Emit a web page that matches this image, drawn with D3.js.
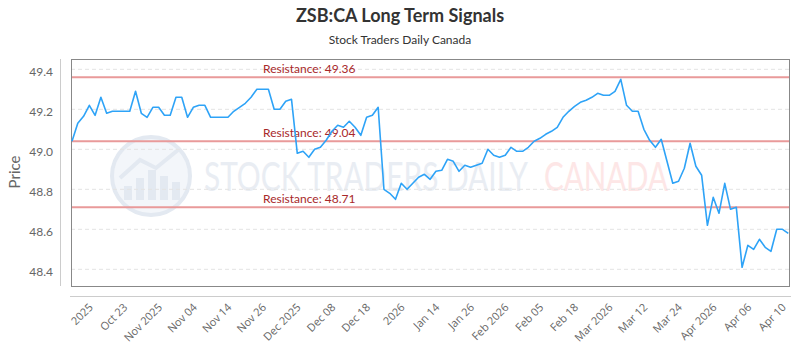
<!DOCTYPE html>
<html>
<head>
<meta charset="utf-8">
<script src="https://cdn.jsdelivr.net/npm/d3@7"></script>
<style>
  body { margin: 0; background: #fff; }
  svg { display: block; font-family: Lato, "Liberation Sans", sans-serif; }
</style>
</head>
<body>
<svg id="chart" width="800" height="350"></svg>
<script>
// closing prices, one per trading day
var values = [
  49.04, 49.13, 49.165, 49.22, 49.17, 49.26, 49.18, 49.19, 49.19, 49.19,
  49.19, 49.29, 49.18, 49.16, 49.21, 49.21, 49.17, 49.17, 49.26, 49.26,
  49.16, 49.21, 49.22, 49.22, 49.16, 49.16, 49.16, 49.16, 49.19, 49.21,
  49.23, 49.26, 49.30, 49.30, 49.30, 49.20, 49.20, 49.24, 49.25, 48.98,
  48.99, 48.96, 49.00, 49.01, 49.045, 49.09, 49.12, 49.11, 49.14, 49.11,
  49.07, 49.16, 49.17, 49.21, 48.80, 48.78, 48.75, 48.83, 48.80, 48.83,
  48.86, 48.875, 48.85, 48.89, 48.895, 48.95, 48.94, 48.89, 48.92, 48.91,
  48.92, 48.93, 49.00, 48.97, 48.96, 48.97, 49.01, 48.99, 48.99, 49.01,
  49.04, 49.055, 49.075, 49.09, 49.11, 49.16, 49.19, 49.215, 49.235, 49.245,
  49.26, 49.28, 49.27, 49.27, 49.29, 49.35, 49.22, 49.19, 49.19, 49.10,
  49.045, 49.01, 49.05, 48.94, 48.83, 48.84, 48.905, 49.03, 48.915, 48.87,
  48.62, 48.76, 48.68, 48.83, 48.70, 48.71, 48.41, 48.52, 48.50, 48.55,
  48.51, 48.49, 48.60, 48.60, 48.58
];
// x axis labels and the day index each one sits on
var tickIdx = [4, 10, 16, 22, 28, 34, 40, 46, 52, 58, 64, 70, 76, 82, 88, 94, 100, 106, 112, 118, 124];
var tickLabels = ["2025", "Oct 23", "Nov 2025", "Nov 04", "Nov 14", "Nov 26", "Dec 2025", "Dec 08",
  "Dec 18", "2026", "Jan 14", "Jan 26", "Feb 2026", "Feb 05", "Feb 18", "Mar 2026", "Mar 12",
  "Mar 24", "Apr 2026", "Apr 06", "Apr 10"];
var yTicks = [48.4, 48.6, 48.8, 49.0, 49.2, 49.4];
var resistance = [49.36, 49.04, 48.71];

var svg = d3.select("#chart");
var plot = { left: 71, right: 790, top: 59, bottom: 286 };

var x = d3.scaleLinear().domain([0, values.length - 1]).range([72, 788.3]);
var y = d3.scaleLinear().domain([48.3165, 49.4515]).range([plot.bottom, plot.top]);

//titles
svg.append("text").attr("x", 400).attr("y", 22).attr("text-anchor", "middle")
  .style("font-size", "18px").style("font-weight", "bold").attr("fill", "#333")
  .text("ZSB:CA Long Term Signals");
svg.append("text").attr("x", 400).attr("y", 44).attr("text-anchor", "middle")
  .style("font-size", "12px").attr("fill", "#333")
  .text("Stock Traders Daily Canada");

//watermark
var wm = svg.append("g").attr("pointer-events", "none");
wm.append("circle").attr("cx", 151).attr("cy", 176).attr("r", 39)
  .attr("fill", "#f3f6fa").attr("stroke", "#e3e9f1").attr("stroke-width", 4);
[[124, 14], [136, 22], [148, 30], [160, 24], [172, 18]].forEach(function (b) {
  wm.append("rect").attr("x", b[0]).attr("y", 200 - b[1]).attr("width", 8).attr("height", b[1])
    .attr("fill", "#e3e9f1");
});
wm.append("path").attr("d", "M120,178 L140,160 L156,168 L178,150")
  .attr("fill", "none").attr("stroke", "#e3e9f1").attr("stroke-width", 4);

// squeeze the watermark words horizontally so they fit their spots
function stretchText(txt, x0, yBase, w, color) {
  var t = wm.append("text").attr("x", 0).attr("y", 0)
    .style("font-size", "40px").attr("fill", color).text(txt);
  var natural = t.node().getComputedTextLength();
  t.attr("transform", "translate(" + x0 + "," + yBase + ") scale(" + (w / natural) + ",1)");
}
stretchText("STOCK TRADERS DAILY", 204, 191, 324, "#e9edf3");
stretchText("CANADA", 544, 191, 124, "#fde6e6");

//grid
svg.append("g").selectAll("line").data(yTicks).enter().append("line")
  .attr("x1", plot.left).attr("x2", plot.right)
  .attr("y1", function (d) { return y(d); }).attr("y2", function (d) { return y(d); })
  .attr("stroke", "#e3e3e3").attr("stroke-dasharray", "4,3");

//y axis
var yAxis = d3.axisLeft(y).tickValues(yTicks).tickSize(0).tickPadding(0)
  .tickFormat(d3.format(".1f"));
var yg = svg.append("g").attr("transform", "translate(53,2.4)").call(yAxis);
yg.select(".domain").remove();
yg.selectAll("text").style("font-size", "12px").attr("fill", "#666").style("font-family", "Lato, sans-serif");
svg.append("line").attr("x1", 60.5).attr("x2", 60.5).attr("y1", plot.top).attr("y2", plot.bottom)
  .attr("stroke", "#ccc");
svg.append("text").attr("transform", "translate(20,172) rotate(-90)").attr("text-anchor", "middle")
  .style("font-size", "15px").attr("fill", "#666").text("Price");

//x axis
var xAxis = d3.axisBottom(x).tickValues(tickIdx).tickSize(0)
  .tickFormat(function (d, i) { return tickLabels[i]; });
var xg = svg.append("g").attr("transform", "translate(0,296)").call(xAxis);
xg.select(".domain").remove();
xg.selectAll("text").attr("text-anchor", "end").attr("dy", null).attr("y", 0)
  .attr("transform", "translate(-2,12) rotate(-45)")
  .style("font-size", "11px").attr("fill", "#666").style("font-family", "'Open Sans', sans-serif");
svg.append("line").attr("x1", 70).attr("x2", 791).attr("y1", 296.5).attr("y2", 296.5).attr("stroke", "#ccc");

//plot border
svg.append("rect").attr("x", plot.left + 0.5).attr("y", plot.top + 0.5)
  .attr("width", plot.right - plot.left - 1).attr("height", plot.bottom - plot.top)
  .attr("fill", "none").attr("stroke", "#888");

//resistance lines
var res = svg.append("g");
res.selectAll("line").data(resistance).enter().append("line")
  .attr("x1", plot.left + 1).attr("x2", plot.right - 1)
  .attr("y1", function (d) { return y(d); }).attr("y2", function (d) { return y(d); })
  .attr("stroke", "#e99a9a").attr("stroke-width", 2);
res.selectAll("text").data(resistance).enter().append("text")
  .attr("x", 263).attr("y", function (d) { return y(d) - 4.5; })
  .style("font-size", "12px").attr("fill", "#a8282a")
  .text(function (d) { return "Resistance: " + d.toFixed(2); });

//price line
var line = d3.line().x(function (d, i) { return x(i); }).y(function (d) { return y(d); });
svg.append("path").datum(values).attr("d", line)
  .attr("fill", "none").attr("stroke", "#2ea3f7").attr("stroke-width", 1.6)
  .attr("stroke-linejoin", "round");
</script>
</body>
</html>
